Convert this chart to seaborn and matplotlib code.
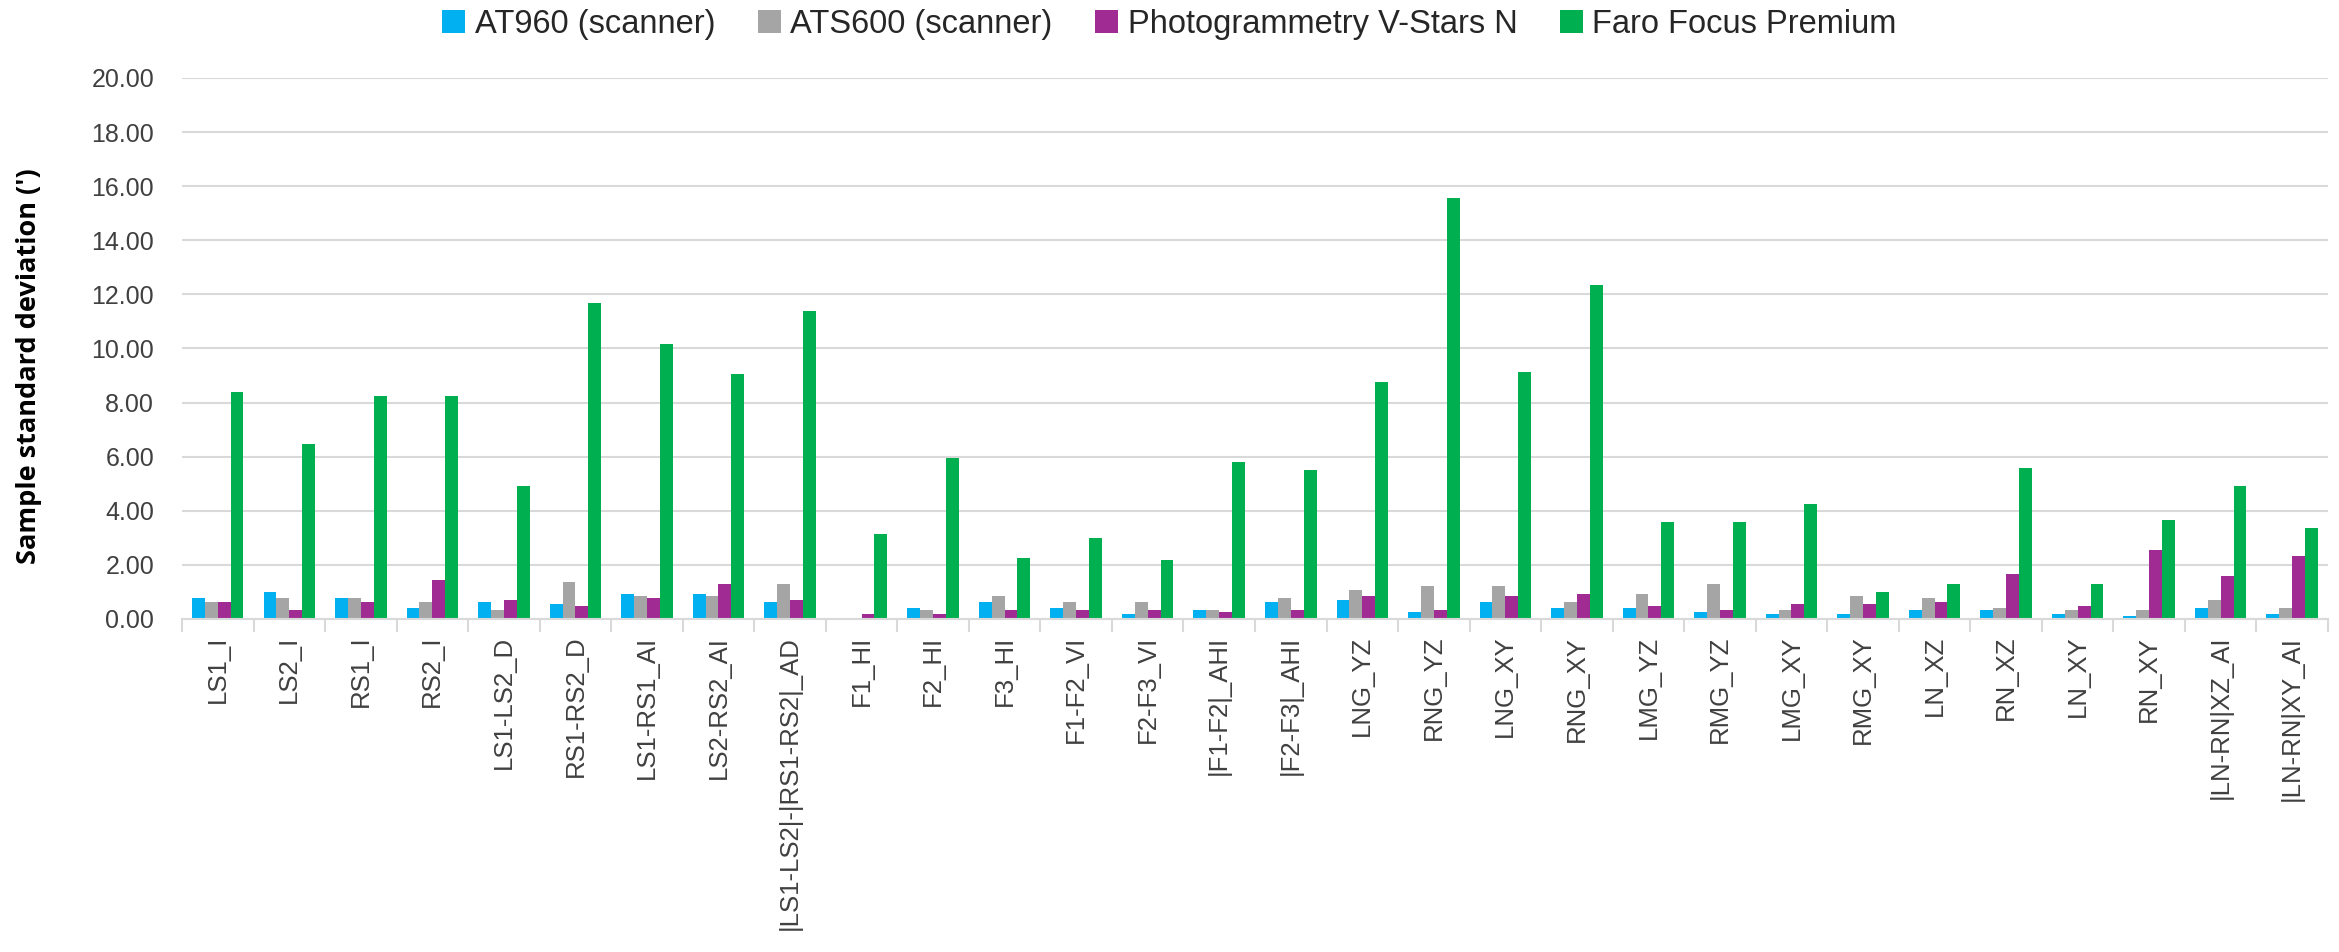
import numpy as np
import pandas as pd
import matplotlib
matplotlib.use("Agg")
import matplotlib.pyplot as plt
import seaborn as sns
from matplotlib.patches import Patch
from matplotlib.ticker import FixedLocator, FormatStrFormatter

# Measures (x categories)
categories = [
    "LS1_I", "LS2_I", "RS1_I", "RS2_I", "LS1-LS2_D", "RS1-RS2_D",
    "LS1-RS1_AI", "LS2-RS2_AI", "|LS1-LS2|-|RS1-RS2|_AD", "F1_HI", "F2_HI",
    "F3_HI", "F1-F2_VI", "F2-F3_VI", "|F1-F2|_AHI", "|F2-F3|_AHI", "LNG_YZ",
    "RNG_YZ", "LNG_XY", "RNG_XY", "LMG_YZ", "RMG_YZ", "LMG_XY", "RMG_XY",
    "LN_XZ", "RN_XZ", "LN_XY", "RN_XY", "|LN-RN|XZ_AI", "|LN-RN|XY_AI",
]

series_names = ["AT960 (scanner)", "ATS600 (scanner)",
                "Photogrammetry V-Stars N", "Faro Focus Premium"]

# Sample standard deviation per instrument (')
at960 = [0.77, 0.99, 0.77, 0.40, 0.62, 0.54, 0.91, 0.91, 0.62, 0.00,
         0.40, 0.62, 0.40, 0.17, 0.32, 0.62, 0.69, 0.25, 0.62, 0.40,
         0.40, 0.25, 0.17, 0.17, 0.32, 0.32, 0.17, 0.10, 0.40, 0.17]
ats600 = [0.62, 0.77, 0.77, 0.62, 0.32, 1.36, 0.84, 0.84, 1.28, 0.00,
          0.32, 0.84, 0.62, 0.62, 0.32, 0.77, 1.06, 1.21, 1.21, 0.62,
          0.91, 1.28, 0.32, 0.84, 0.77, 0.40, 0.32, 0.32, 0.69, 0.40]
vstars = [0.62, 0.32, 0.62, 1.43, 0.69, 0.47, 0.77, 1.28, 0.69, 0.17,
          0.17, 0.32, 0.32, 0.32, 0.25, 0.32, 0.84, 0.32, 0.84, 0.91,
          0.47, 0.32, 0.54, 0.54, 0.62, 1.65, 0.47, 2.54, 1.58, 2.32]
faro = [8.40, 6.47, 8.25, 8.25, 4.91, 11.68, 10.16, 9.06, 11.40, 3.14,
        5.95, 2.25, 2.99, 2.17, 5.80, 5.51, 8.77, 15.58, 9.13, 12.36,
        3.58, 3.58, 4.25, 0.99, 1.28, 5.58, 1.28, 3.65, 4.91, 3.36]

y_ticks = [0, 2, 4, 6, 8, 10, 12, 14, 16, 18, 20]

palette = ["#00B0F0", "#A5A5A5", "#A02B93", "#00B050"]

frames = []
for name, vals in zip(series_names, [at960, ats600, vstars, faro]):
    frames.append(pd.DataFrame({"Measure": categories, "Instrument": name, "Value": vals}))
df = pd.concat(frames, ignore_index=True)

sns.set_theme(style="white")
plt.rcParams["font.family"] = ["Liberation Sans", "DejaVu Sans"]

fig = plt.figure(figsize=(23.39, 9.52), dpi=100)
ax = fig.add_axes([0.0778, 0.3498, 0.9175, 0.5683])

sns.barplot(data=df, x="Measure", y="Value", hue="Instrument",
            order=categories, hue_order=series_names, palette=palette,
            width=0.72, saturation=1, errorbar=None, legend=False,
            linewidth=0, ax=ax)

ax.set_xlim(-0.5, len(categories) - 0.5)
ax.set_ylim(0, 20)
ax.set_yticks(y_ticks)
ax.yaxis.set_major_formatter(FormatStrFormatter("%.2f"))
ax.grid(axis="y", color="#D9D9D9", linewidth=1.5)
ax.set_axisbelow(True)

for side in ["left", "right", "top"]:
    ax.spines[side].set_visible(False)
ax.spines["bottom"].set_color("#D9D9D9")
ax.spines["bottom"].set_linewidth(1.5)

ax.set_xticks(range(len(categories)))
ax.set_xticklabels(categories, rotation=90, fontsize=18.5, color="#404040")
ax.tick_params(axis="x", which="major", length=0, pad=12)
ax.xaxis.set_minor_locator(FixedLocator(np.arange(-0.5, len(categories), 1.0)))
ax.tick_params(axis="x", which="minor", length=9, width=1.5, color="#D9D9D9",
               direction="out", bottom=True)
ax.tick_params(axis="y", length=0, labelsize=18, labelcolor="#404040", pad=20)

ax.set_xlabel("")
ax.set_ylabel("Sample standard deviation (')", fontsize=19.5, fontweight="bold",
              color="#000000", family=["Open Sans", "DejaVu Sans"])
ax.yaxis.set_label_coords(-0.065, 0.468)

handles = [Patch(facecolor=c, edgecolor="none") for c in palette]
fig.legend(handles, series_names, loc="center", bbox_to_anchor=(0.5, 0.974),
           ncol=4, frameon=False, handlelength=0.7,
           handleheight=0.7, handletextpad=0.3, columnspacing=1.3,
           prop={"family": ["Liberation Sans Narrow", "Liberation Sans"], "size": 23.5})

fig.savefig("out.png", dpi=100, facecolor="white")
